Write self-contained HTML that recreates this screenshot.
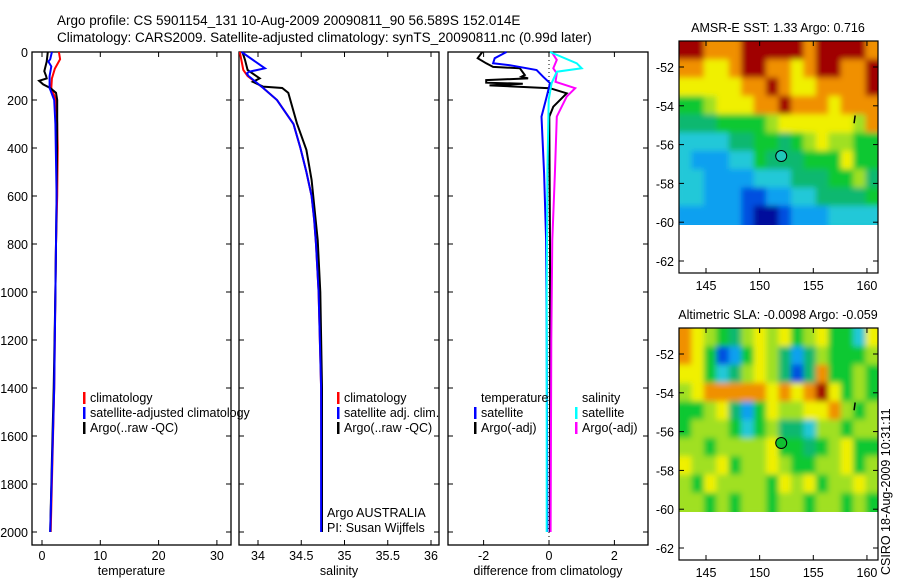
<!DOCTYPE html>
<html><head><meta charset="utf-8"><style>
body{margin:0;background:#fff;}
svg{display:block;font-family:"Liberation Sans",sans-serif;}
</style></head><body>
<svg id="fig" width="900" height="580" viewBox="0 0 900 580" xmlns="http://www.w3.org/2000/svg">
<defs>
<filter id="smooth" x="-5%" y="-5%" width="110%" height="110%">
<feGaussianBlur stdDeviation="3"/>
<feComponentTransfer><feFuncA type="linear" slope="8"/></feComponentTransfer>
</filter>
<clipPath id="clip0"><rect x="679" y="41" width="199" height="184"/></clipPath>
<clipPath id="clip1"><rect x="679" y="328" width="199" height="184"/></clipPath>
</defs>
<text x="57" y="25" font-size="13.5">Argo profile: CS 5901154_131 10-Aug-2009 20090811_90 56.589S 152.014E</text>
<text x="57" y="42" font-size="13.5">Climatology: CARS2009. Satellite-adjusted climatology: synTS_20090811.nc (0.99d later)</text>
<g id="g"></g>
</svg>
<script>
// ---- profile data (depth m, values) ----
const tDepth=[0,30,70,110,150,200,300,400,600,800,1000,1400,2000];
const tClim=[2.9,3.1,2.2,1.7,1.6,2.4,2.6,2.7,2.6,2.4,2.3,2.1,1.5];
const tSatDepth=[0,30,40,60,100,150,200,300,600,800,1000,1400,2000];
const tSat=[1.7,1.4,1.1,1.6,1.3,1.3,2.1,2.3,2.5,2.4,2.3,2.1,1.4];
const tArgoDepth=[0,40,80,100,110,120,135,150,170,200,300,600,1000,1400,1700,2000];
const tArgo=[1.0,0.8,0.4,0.7,0.8,-0.5,0.2,1.4,2.4,2.6,2.6,2.5,2.3,2.0,1.7,1.4];
const sDepth=[0,75,100,150,200,300,400,500,600,700,800,1000,1400,2000];
const sClim=[33.79,33.83,33.88,34.06,34.22,34.41,34.49,34.56,34.62,34.65,34.67,34.70,34.73,34.74];
const sSatDepth=[0,68,82,89,100,150,200,300,400,500,600,700,800,1000,1400,2000];
const sSat=[33.81,34.08,33.90,33.87,33.89,34.06,34.22,34.41,34.49,34.56,34.62,34.65,34.67,34.70,34.73,34.73];
const sArgoDepth=[0,33,75,110,124,144,150,170,297,408,533,783,1000,1400,2000];
const sArgo=[33.82,33.85,33.88,34.02,33.94,34.06,34.28,34.35,34.45,34.56,34.62,34.69,34.72,34.74,34.74];
const dDepthTS=[0,26,47,55,75,103,130,186,269,506,783,1200,2000];
const dTSat=[-1.3,-1.66,-1.71,-1.2,-0.38,-0.18,0.03,-0.07,-0.23,-0.15,-0.09,-0.07,-0.05];
const dDepthTA=[0,26,47,62,68,96,103,110,117,128,132,139,151,172,228,269,800,2000];
const dTArgo=[-2.04,-2.18,-1.92,-1.71,-0.89,-0.74,-0.84,-0.64,-1.92,-1.92,-0.8,-1.82,0.03,0.54,0.13,0.01,0.03,0.03];
const dDepthSS=[0,47,68,82,130,200,500,1000,2000];
const dSSat=[0.03,0.85,1.0,0.24,0.08,-0.01,-0.05,-0.07,-0.07];
const dDepthSA=[0,33,68,89,124,151,186,269,506,783,1200,2000];
const dSArgo=[0.08,0.24,0.13,0.24,0.2,0.8,0.54,0.24,0.18,0.1,0.07,0.05];
const depthTicks=[0,200,400,600,800,1000,1200,1400,1600,1800,2000];
const tTicks=[0,10,20,30];
const sTicks=[34,34.5,35,35.5,36];
const dTicks=[-2,0,2];
// ---- map data (colour class 0..9, rows north->south, cols west->east) ----
const sstRows=["9988899999899998","8877899887899889","7777788987788889","5567778898887888","4445555677777768","3333445545676655","3222335444555755","3322223334445564","3322211223344445","2222210012223333"];
const slaRows=["8765467675675537","8751257642465556","7753467641485565","6788888787897565","5567425766778656","5666535644366566","6656666755456755","7667566765566756","6576666576756676","6656566566566565"];
const latTicks=[-52,-54,-56,-58,-60,-62];
const lonTicks=[145,150,155,160];
const palette=["#00109c","#0050e0","#10a0f0","#20c8d8","#10b870","#10c830","#a0e020","#f0f000","#f09000","#a00000"];

const NS="http://www.w3.org/2000/svg";
const G=document.getElementById('g');
function el(tag,at,parent){const e=document.createElementNS(NS,tag);for(const k in at)e.setAttribute(k,at[k]);(parent||G).appendChild(e);return e;}
const yD=d=>52+0.24*d;
const PB=545,PT=52;
function panel(name,x0,x1,xs,ticks,label,leftLabels){
  const g=el('g',{});
  
  
  const r=el('rect',{x:x0,y:PT,width:x1-x0,height:PB-PT,fill:'none',stroke:'#000','stroke-width':1.3},g);
  
  
  depthTicks.forEach(d=>{
    el('line',{x1:x0,x2:x0+5,y1:yD(d),y2:yD(d),stroke:'#000'},g);
    el('line',{x1:x1-5,x2:x1,y1:yD(d),y2:yD(d),stroke:'#000'},g);
    if(leftLabels){const t=el('text',{x:x0-4,y:yD(d)+5,'font-size':12.5,'text-anchor':'end'},g);t.textContent=d;
      
      }
  });
  ticks.forEach(v=>{const x=xs(v);
    el('line',{x1:x,x2:x,y1:PT,y2:PT+5,stroke:'#000'},g);
    el('line',{x1:x,x2:x,y1:PB-5,y2:PB,stroke:'#000'},g);
    const t=el('text',{x:x,y:PB+15,'font-size':12.5,'text-anchor':'middle'},g);t.textContent=v;
    
    
  });
  const t=el('text',{x:(x0+x1)/2,y:575,'font-size':12.5,'text-anchor':'middle'},g);t.textContent=label;
  
  
  return g;
}
function line(name,depths,vals,xs,color){
  const p=el('polyline',{points:depths.map((d,i)=>xs(vals[i]).toFixed(1)+','+yD(d).toFixed(1)).join(' '),fill:'none',stroke:color,'stroke-width':2});
  
  
}
function legend(items,x,y){
  items.forEach((it,i)=>{
    if(it[1])el('rect',{x:x,y:y+i*15-10,width:2.5,height:12,fill:it[1]});
    const t=el('text',{x:x+7,y:y+i*15,'font-size':12.5});t.textContent=it[0];
    
    
  });
}
// panel 1 temperature
const xT=v=>42+5.83*v;
panel('temperature-panel',32,231,xT,tTicks,'temperature',true);
line('temp-climatology',tDepth,tClim,xT,'#f00');
line('temp-argo',tArgoDepth,tArgo,xT,'#000');
line('temp-satellite-adj',tSatDepth,tSat,xT,'#00f');
legend([['climatology','#f00'],['satellite-adjusted climatology','#00f'],['Argo(..raw -QC)','#000']],83,402);
// panel 2 salinity
const xS=v=>258+86.5*(v-34);
panel('salinity-panel',239,439,xS,sTicks,'salinity',false);
line('sal-climatology',sDepth,sClim,xS,'#f00');
line('sal-argo',sArgoDepth,sArgo,xS,'#000');
line('sal-satellite-adj',sSatDepth,sSat,xS,'#00f');
legend([['climatology','#f00'],['satellite adj. clim.','#00f'],['Argo(..raw -QC)','#000']],337,402);
legend([['Argo AUSTRALIA',null],['PI: Susan Wijffels',null]],320,517);
// panel 3 difference
const xDf=v=>549+32.7*v;
panel('difference-panel',448,648,xDf,dTicks,'difference from climatology',false);
el('line',{x1:549,x2:549,y1:PT,y2:PB,stroke:'#000','stroke-dasharray':'1,3'});
line('diff-temp-argo',dDepthTA,dTArgo,xDf,'#000');
line('diff-temp-satellite',dDepthTS,dTSat,xDf,'#00f');
line('diff-sal-argo',dDepthSA,dSArgo,xDf,'#f0f');
line('diff-sal-satellite',dDepthSS,dSSat,xDf,'#0ff');
legend([['temperature',null],['satellite','#00f'],['Argo(-adj)','#000']],474,402);
legend([['salinity',null],['satellite','#0ff'],['Argo(-adj)','#f0f']],575,402);
// maps
const MX0=679,MX1=878,lon0=142.5,lon1=161.0,latTop=-50.66,latData=-60.1;
const xL=lon=>706+(lon-145)*10.73;
function map(name,rows,oy,title,circleFill,clipId){
  const g=el('g',{});
  
  
  const yL=lat=>oy+67+(-52-lat)*19.4;
  const nc=rows[0].length,nr=rows.length;
  const cw=(MX1-MX0)/nc,ch=(yL(latData)-yL(latTop))/nr;
  const cg=el('g',{'clip-path':'url(#'+clipId+')'},g);
  const hg=el('g',{filter:'url(#smooth)'},cg);
  rows.forEach((row,r)=>{for(let c=0;c<nc;c++){
    const cell=el('rect',{x:MX0+c*cw,y:yL(latTop)+r*ch,width:cw+0.5,height:ch+0.5,fill:palette[+row[c]]},hg);
    
    
  }});
  const fr=el('rect',{x:MX0,y:oy+41,width:MX1-MX0,height:232,fill:'none',stroke:'#000','stroke-width':1.2},g);
  
  
  latTicks.forEach(l=>{const y=yL(l);
    el('line',{x1:MX0,x2:MX0+5,y1:y,y2:y,stroke:'#000'},g);
    el('line',{x1:MX1-5,x2:MX1,y1:y,y2:y,stroke:'#000'},g);
    const t=el('text',{x:MX0-5,y:y+5,'font-size':12.5,'text-anchor':'end'},g);t.textContent=l;
    
    });
  lonTicks.forEach(l=>{const x=xL(l);
    el('line',{x1:x,x2:x,y1:oy+41,y2:oy+46,stroke:'#000'},g);
    el('line',{x1:x,x2:x,y1:oy+268,y2:oy+273,stroke:'#000'},g);
    const t=el('text',{x:x,y:oy+290,'font-size':12.5,'text-anchor':'middle'},g);t.textContent=l;
    
    });
  const c=el('circle',{cx:xL(152.01),cy:yL(-56.59),r:5.5,fill:circleFill,stroke:'#000','stroke-width':1},g);
  
  
  el('line',{x1:xL(158.9),x2:xL(158.8),y1:yL(-54.5),y2:yL(-54.9),stroke:'#000','stroke-width':1.5},g);
  const t=el('text',{x:778,y:oy+32,'font-size':12.5,'text-anchor':'middle'},g);t.textContent=title;
  
  
}
map('sst-map',sstRows,0,'AMSR-E SST: 1.33 Argo: 0.716','#20c8b8','clip0');
map('sla-map',slaRows,287,'Altimetric SLA: -0.0098 Argo: -0.059','#10c030','clip1');
const st=el('text',{x:0,y:0,'font-size':12.5,transform:'translate(890,575) rotate(-90)'});
st.textContent='CSIRO 18-Aug-2009 10:31:11';


</script>
</body></html>
